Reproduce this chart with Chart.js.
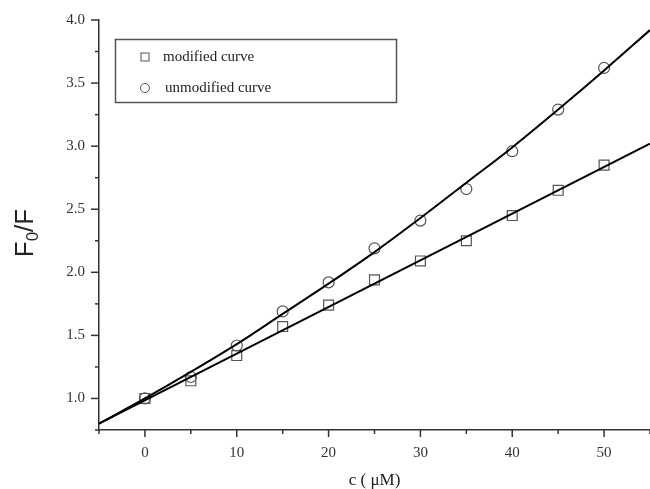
<!DOCTYPE html>
<html>
<head>
<meta charset="utf-8">
<script src="https://cdn.jsdelivr.net/npm/chart.js@4"></script>
<style>
  html, body { margin: 0; padding: 0; background: #fff; overflow: hidden; }
  #wrap { position: relative; width: 650px; height: 489px; }
</style>
</head>
<body>
<div id="wrap"><canvas id="myChart"></canvas></div>
<script>
// concentration (uM)
const conc = [0, 5, 10, 15, 20, 25, 30, 35, 40, 45, 50];
const modified = [1.0, 1.14, 1.34, 1.57, 1.74, 1.94, 2.09, 2.25, 2.45, 2.65, 2.85];
const unmodified = [1.0, 1.17, 1.42, 1.69, 1.92, 2.19, 2.41, 2.66, 2.96, 3.29, 3.62];

// fitted curves
const fitModX = [-5, 55];
const fitModY = [0.80, 3.02];
const fitUnmodX = [-5, 0, 5, 10, 15, 20, 25, 30, 35, 40, 45, 50, 55];
const fitUnmodY = [0.80, 1.0, 1.21, 1.43, 1.67, 1.91, 2.16, 2.43, 2.71, 2.99, 3.29, 3.60, 3.92];

const legendLabels = ["modified curve", "unmodified curve"];

const pts = (xs, ys) => xs.map((x, i) => ({ x: x, y: ys[i] }));

const serif = "'Liberation Serif', 'Times New Roman', serif";
const markerColor = "#555";

// tick marks, axis titles and the boxed legend
const decor = {
  id: "decor",
  afterDraw(chart) {
    const ctx = chart.ctx;
    const xs = chart.scales.x, ys = chart.scales.y;
    const area = chart.chartArea;
    ctx.save();
    ctx.strokeStyle = "#333";
    ctx.lineWidth = 1.5;
    xs.ticks.forEach(t => {
      const px = xs.getPixelForValue(t.value);
      const len = Math.abs(t.value % 10) < 1e-6 ? 7 : 4;
      ctx.beginPath();
      ctx.moveTo(px, area.bottom);
      ctx.lineTo(px, area.bottom + len);
      ctx.stroke();
    });
    ys.ticks.forEach(t => {
      const py = ys.getPixelForValue(t.value);
      const major = Math.abs(t.value * 2 - Math.round(t.value * 2)) < 1e-6;
      const len = major ? 8 : 4;
      ctx.beginPath();
      ctx.moveTo(area.left, py);
      ctx.lineTo(area.left - len, py);
      ctx.stroke();
    });

    // x title
    ctx.fillStyle = "#222";
    ctx.font = "17px " + serif;
    ctx.textAlign = "center";
    ctx.textBaseline = "alphabetic";
    ctx.fillText("c ( \u03bcM)", (area.left + area.right) / 2, 485);

    // y title with subscript
    ctx.save();
    ctx.translate(33, 233);
    ctx.rotate(-Math.PI / 2);
    ctx.textAlign = "left";
    const big = "26px 'Liberation Sans', Arial, sans-serif";
    const small = "17px 'Liberation Sans', Arial, sans-serif";
    ctx.font = big;
    const wF = ctx.measureText("F").width;
    ctx.font = small;
    const w0 = ctx.measureText("0").width;
    ctx.font = big;
    const wRest = ctx.measureText("/F").width;
    let x0 = -(wF + w0 + wRest) / 2;
    ctx.fillText("F", x0, 0);
    ctx.font = small;
    ctx.fillText("0", x0 + wF, 5);
    ctx.font = big;
    ctx.fillText("/F", x0 + wF + w0, 0);
    ctx.restore();

    // legend box
    ctx.strokeStyle = "#555";
    ctx.lineWidth = 1.5;
    ctx.strokeRect(115.5, 39.5, 281, 63);
    ctx.lineWidth = 1;
    ctx.strokeStyle = markerColor;
    ctx.strokeRect(141, 53, 8, 8);
    ctx.beginPath();
    ctx.arc(145, 88, 4.5, 0, Math.PI * 2);
    ctx.stroke();
    ctx.fillStyle = "#222";
    ctx.font = "15px " + serif;
    ctx.textAlign = "left";
    ctx.textBaseline = "middle";
    ctx.fillText(legendLabels[0], 163, 57);
    ctx.fillText(legendLabels[1], 165, 88);
    ctx.restore();
  }
};

const data = {
  datasets: [
    {
      label: "fit modified",
      data: pts(fitModX, fitModY),
      borderColor: "#000",
      borderWidth: 2,
      pointRadius: 0,
      showLine: true,
      order: 1
    },
    {
      label: "fit unmodified",
      data: pts(fitUnmodX, fitUnmodY),
      borderColor: "#000",
      borderWidth: 2,
      pointRadius: 0,
      showLine: true,
      cubicInterpolationMode: "monotone",
      order: 1
    },
    {
      label: legendLabels[0],
      data: pts(conc, modified),
      showLine: false,
      pointStyle: "rect",
      pointRadius: 7,
      pointBorderWidth: 1.2,
      pointBorderColor: markerColor,
      pointBackgroundColor: "transparent",
      order: 2
    },
    {
      label: legendLabels[1],
      data: pts(conc, unmodified),
      showLine: false,
      pointStyle: "circle",
      pointRadius: 5.5,
      pointBorderWidth: 1.2,
      pointBorderColor: markerColor,
      pointBackgroundColor: "transparent",
      order: 2
    }
  ]
};

const config = {
  type: "scatter",
  data: data,
  options: {
    responsive: true,
    maintainAspectRatio: false,
    animation: false,
    layout: { autoPadding: false, padding: { top: 20, right: 0, left: 0, bottom: 0 } },
    plugins: {
      legend: false,
      tooltip: { enabled: false }
    },
    scales: {
      x: {
        type: "linear",
        min: -5,
        max: 55,
        afterFit: s => { s.height = 59; s.paddingRight = 0; s.paddingLeft = 0; },
        border: { color: "#333", width: 1.5 },
        grid: { display: false, drawTicks: false },
        ticks: {
          stepSize: 5,
          padding: 14,
          maxRotation: 0,
          autoSkip: false,
          color: "#333",
          font: { family: serif, size: 15 },
          callback: v => (Math.abs(v % 10) < 1e-6 ? String(v) : "")
        }
      },
      y: {
        min: 0.75,
        max: 4.0,
        afterFit: s => { s.width = 99; s.paddingTop = 0; s.paddingBottom = 0; },
        border: { color: "#333", width: 1.5 },
        grid: { display: false, drawTicks: false },
        ticks: {
          stepSize: 0.25,
          padding: 14,
          autoSkip: false,
          color: "#333",
          font: { family: serif, size: 15 },
          callback: v => (Math.abs(v * 2 - Math.round(v * 2)) < 1e-6 ? v.toFixed(1) : "")
        }
      }
    }
  },
  plugins: [decor]
};

const myChart = new Chart(document.getElementById("myChart"), config);
</script>
</body>
</html>
